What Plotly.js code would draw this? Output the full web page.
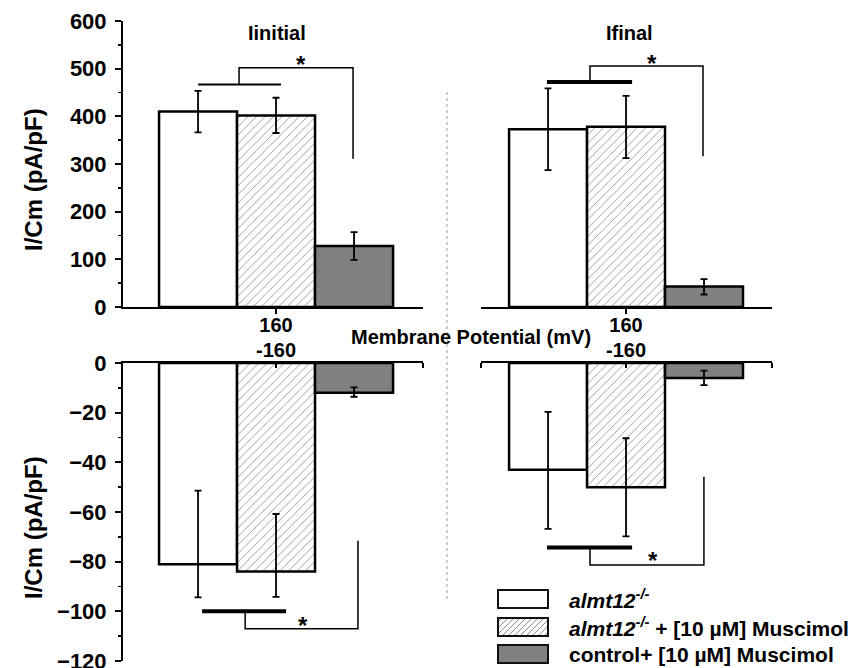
<!DOCTYPE html>
<html>
<head>
<meta charset="utf-8">
<script src="https://cdn.plot.ly/plotly-3.0.1.min.js"></script>
<style>html,body{margin:0;padding:0;background:#fff;}#chart{width:848px;height:668px;}</style>
</head>
<body>
<div id="chart"></div>
<script>
// ---- data ----
const categoryPos = ['160'];
const categoryNeg = ['-160'];
const seriesNames = ['almt12-/-', 'almt12-/- + [10 µM] Muscimol', 'control+ [10 µM] Muscimol'];

// Iinitial, +160 mV
const initialPos = [410, 402, 128];
const initialPosErr = [43.5, 37, 29];
// Ifinal, +160 mV
const finalPos = [373, 378, 43];
const finalPosErrPlus = [85.5, 65, 15.5];
const finalPosErrMinus = [86, 65.7, 16.8];
// Iinitial, -160 mV
const initialNeg = [-81, -84, -12];
const initialNegErrPlus = [29.6, 23.2, 2.2];
const initialNegErrMinus = [13.4, 10.2, 1.6];
// Ifinal, -160 mV
const finalNeg = [-43, -50, -6];
const finalNegErrPlus = [23.3, 19.7, 2.9];
const finalNegErrMinus = [23.8, 19.8, 2.9];

const yTicksPos = [0, 100, 200, 300, 400, 500, 600];
const yTicksNeg = [-120, -100, -80, -60, -40, -20, 0];

// significance brackets (values in data units)
const bracketBaseY = [467, 472, -100, -74.3];
const bracketTopY = [502, 505.6, -107, -81.3];
const bracketEndY = [311, 316, -71.6, -45.8];
const bracketStarY = [521, 524, -103.2, -77];

// ---- styling ----
const W = 848, H = 668;
const P = x => x / W;
const Q = y => 1 - y / H;
const FONT = 'Liberation Sans, Arial, sans-serif';
const seriesStyle = [
  {color: '#ffffff'},
  {color: '#ffffff', pattern: {shape: '/', fgcolor: '#8c8c8c', bgcolor: '#ffffff', size: 6, solidity: 0.14}},
  {color: '#808080'}
];

const panels = [
  {xa: 'x', ya: 'y', cat: categoryPos, vals: [initialPos], ep: initialPosErr, em: initialPosErr},
  {xa: 'x2', ya: 'y2', cat: categoryPos, vals: [finalPos], ep: finalPosErrPlus, em: finalPosErrMinus},
  {xa: 'x3', ya: 'y3', cat: categoryNeg, vals: [initialNeg], ep: initialNegErrPlus, em: initialNegErrMinus},
  {xa: 'x4', ya: 'y4', cat: categoryNeg, vals: [finalNeg], ep: finalNegErrPlus, em: finalNegErrMinus}
];

const traces = [];
panels.forEach(p => {
  const v = p.vals[0];
  for (let s = 0; s < 3; s++) {
    const marker = {color: seriesStyle[s].color, line: {color: '#000', width: 2.5}};
    if (seriesStyle[s].pattern) marker.pattern = seriesStyle[s].pattern;
    traces.push({
      type: 'bar', name: seriesNames[s], x: p.cat, y: [v[s]],
      xaxis: p.xa, yaxis: p.ya, offsetgroup: String(s), showlegend: false,
      marker: marker,
      error_y: {type: 'data', symmetric: false, array: [p.ep[s]], arrayminus: [p.em[s]],
                color: '#000', thickness: 1.8, width: 3.5}
    });
  }
});

const fontTick = {family: FONT, size: 22, color: '#000', weight: 'bold'};
const fontCat = {family: FONT, size: 20, color: '#000', weight: 'bold'};

function xAxis(dom, anchor, range, side) {
  return {
    domain: dom, anchor: anchor, type: 'category', range: range,
    showline: true, linecolor: '#000', linewidth: 2,
    ticks: side === 'top' ? 'inside' : 'outside', ticklen: 5, tickwidth: 2, tickcolor: '#000',
    side: side, tickfont: fontCat, showgrid: false, zeroline: false, fixedrange: true,
    ticklabelstandoff: side === 'top' ? -4 : -6, ticklabeloverflow: 'allow'
  };
}
function yAxis(dom, anchor, range, ticks, minorStep, visible) {
  return {
    domain: dom, anchor: anchor, range: range, visible: visible,
    showline: true, linecolor: '#000', linewidth: 2,
    tickmode: 'array', tickvals: ticks,
    ticks: 'outside', ticklen: 6, tickwidth: 2, tickcolor: '#000',
    minor: {dtick: minorStep, ticks: 'outside', ticklen: 3, tickwidth: 1.5, tickcolor: '#000'},
    tickfont: fontTick, showgrid: false, zeroline: false, fixedrange: true, ticklabelstandoff: 4,
    ticklabeloverflow: 'allow'
  };
}

const topDom = [Q(307), Q(21)];
const botDom = [Q(661), Q(363)];
const layout = {
  width: W, height: H, margin: {l: 0, r: 0, t: 0, b: 0},
  paper_bgcolor: '#fff', plot_bgcolor: 'rgba(0,0,0,0)',
  barmode: 'group', bargap: 0, bargroupgap: 0, showlegend: false,
  font: {family: FONT, color: '#000'},
  xaxis: xAxis([P(123), P(423)], 'y', [-0.654, 0.628], 'bottom'),
  xaxis2: xAxis([P(481), P(772)], 'y2', [-0.620, 0.624], 'bottom'),
  xaxis3: xAxis([P(123), P(423)], 'y3', [-0.654, 0.628], 'top'),
  xaxis4: xAxis([P(481), P(772)], 'y4', [-0.620, 0.624], 'top'),
  yaxis: yAxis(topDom, 'x', [0, 600], yTicksPos, 50, true),
  yaxis2: yAxis(topDom, 'x2', [0, 600], yTicksPos, 50, false),
  yaxis3: yAxis(botDom, 'x3', [-120, 0], yTicksNeg, 10, true),
  yaxis4: yAxis(botDom, 'x4', [-120, 0], yTicksNeg, 10, false),
  shapes: [], annotations: []
};

// brackets
const bx = [
  {xa: 'x', ya: 'y', b0: -0.333, b1: 0.021, c: -0.158, e: 0.329, s: 0.107, bw: 2},
  {xa: 'x2', ya: 'y2', b0: -0.338, b1: 0.026, c: -0.154, e: 0.329, s: 0.111, bw: 4},
  {xa: 'x3', ya: 'y3', b0: -0.316, b1: 0.043, c: -0.132, e: 0.350, s: 0.115, bw: 4},
  {xa: 'x4', ya: 'y4', b0: -0.338, b1: 0.026, c: -0.154, e: 0.333, s: 0.115, bw: 4}
];
bx.forEach((b, i) => {
  const line = w => ({color: '#000', width: w});
  layout.shapes.push({type: 'line', xref: b.xa, yref: b.ya, x0: b.b0, x1: b.b1, y0: bracketBaseY[i], y1: bracketBaseY[i], line: line(b.bw)});
  layout.shapes.push({type: 'path', xref: b.xa, yref: b.ya,
    path: `M ${b.c} ${bracketBaseY[i]} L ${b.c} ${bracketTopY[i]} L ${b.e} ${bracketTopY[i]} L ${b.e} ${bracketEndY[i]}`,
    line: line(1.5)});
  layout.annotations.push({xref: b.xa, yref: b.ya, x: b.s, y: bracketStarY[i], text: '<b>*</b>',
    showarrow: false, yanchor: 'middle', yshift: -6, font: {family: FONT, size: 24, color: '#000'}});
});

// axis end ticks
[['x', 'y', 1], ['x2', 'y2', 0], ['x2', 'y2', 1], ['x3', 'y3', 1], ['x4', 'y4', 0], ['x4', 'y4', 1]].forEach(t => {
  layout.shapes.push({type: 'line', xref: t[0] + ' domain', yref: t[1], ysizemode: 'pixel', yanchor: 0,
    x0: t[2], x1: t[2], y0: 0, y1: -5, line: {color: '#000', width: 2}});
});

// dotted separator
layout.shapes.push({type: 'line', xref: 'paper', yref: 'paper', x0: P(447), x1: P(447), y0: Q(92), y1: Q(601),
  line: {color: '#9a9a9a', width: 1, dash: 'dot'}});

// titles and labels
const ann = (x, y, text, size, extra) => Object.assign({xref: 'paper', yref: 'paper', x: P(x), y: Q(y), text: text,
  showarrow: false, xanchor: 'center', yanchor: 'middle', font: {family: FONT, size: size, color: '#000', weight: 'bold'}}, extra || {});
layout.annotations.push(ann(277, 33, 'Iinitial', 20));
layout.annotations.push(ann(629, 33, 'Ifinal', 20));
layout.annotations.push(ann(471, 337, 'Membrane Potential (mV)', 20));
layout.annotations.push(ann(33, 180, 'I/Cm (pA/pF)', 24, {textangle: -90}));
layout.annotations.push(ann(33, 528, 'I/Cm (pA/pF)', 24, {textangle: -90}));

// legend (drawn manually)
const legRows = [599, 627, 654];
const legText = ['<i>almt12<sup>-/-</sup></i>', '<i>almt12<sup>-/-</sup></i> + [10 µM] Muscimol', 'control+ [10 µM] Muscimol'];
const legFill = ['#ffffff', '#ffffff', '#808080'];
legRows.forEach((yc, i) => {
  const x0 = 498, x1 = 548, y0 = yc - 9, y1 = yc + 9;
  layout.shapes.push({type: 'rect', xref: 'paper', yref: 'paper', x0: P(x0), x1: P(x1), y0: Q(y1), y1: Q(y0),
    fillcolor: legFill[i], line: {width: 0}, layer: 'above'});
  if (i === 1) {
    let d = '';
    for (let k = x0 + y0 + 4; k < x1 + y1; k += 6) {
      const xa = Math.max(x0, k - y1), xb = Math.min(x1, k - y0);
      if (xb <= xa) continue;
      d += `M ${P(xa)} ${Q(k - xa)} L ${P(xb)} ${Q(k - xb)} `;
    }
    layout.shapes.push({type: 'path', xref: 'paper', yref: 'paper', path: d, line: {color: '#8c8c8c', width: 1}, layer: 'above'});
  }
  layout.shapes.push({type: 'rect', xref: 'paper', yref: 'paper', x0: P(x0), x1: P(x1), y0: Q(y1), y1: Q(y0),
    fillcolor: 'rgba(0,0,0,0)', line: {color: '#111', width: 2}, layer: 'above'});
  layout.annotations.push(ann(567, yc, legText[i], 21, {xanchor: 'left'}));
});

Plotly.newPlot('chart', traces, layout, {staticPlot: true});
</script>
</body>
</html>
